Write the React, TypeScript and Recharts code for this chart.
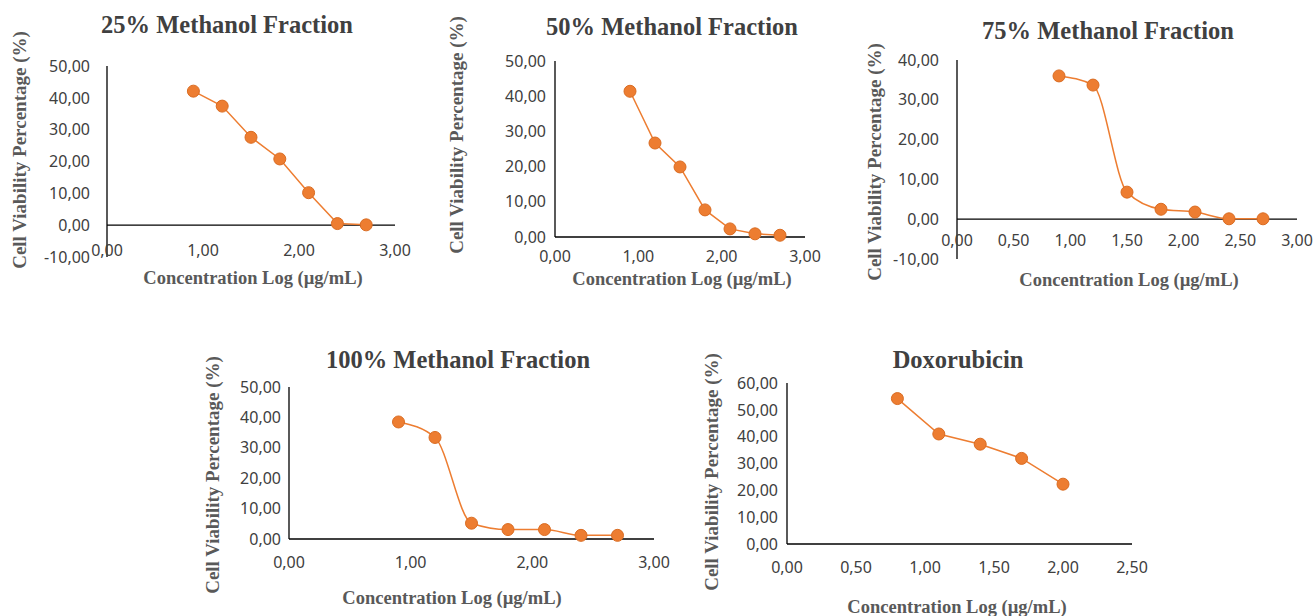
import React from "react";
import { LineChart, Line, XAxis, YAxis, ReferenceLine } from "recharts";

// log10 of concentration (µg/mL) and viability (%)
const logConc = [0.9, 1.2, 1.5, 1.8, 2.1, 2.4, 2.7];
const viability25 = [42.1, 37.4, 27.6, 20.8, 10.2, 0.5, 0.1];
const viability50 = [41.4, 26.7, 19.9, 7.7, 2.3, 0.9, 0.5];
const viability75 = [36.0, 33.7, 6.8, 2.5, 1.8, 0.1, 0.1];
const viability100 = [38.5, 33.4, 5.2, 3.1, 3.1, 1.2, 1.2];
const doxoLogConc = [0.8, 1.1, 1.4, 1.7, 2.0];
const doxoViability = [54.2, 41.0, 37.2, 31.9, 22.3];

const xTicksWhole = [0, 1, 2, 3];
const xTicksHalf = [0, 0.5, 1, 1.5, 2, 2.5, 3];
const xTicksDoxo = [0, 0.5, 1, 1.5, 2, 2.5];
const yTicksNeg50 = [-10, 0, 10, 20, 30, 40, 50];
const yTicks50 = [0, 10, 20, 30, 40, 50];
const yTicksNeg40 = [-10, 0, 10, 20, 30, 40];
const yTicks60 = [0, 10, 20, 30, 40, 50, 60];

const Y_W = 80;
const M_TOP = 10;
const M_RIGHT = 30;
const X_H = 40;

const ORANGE = "#ED7D31";
const TICK_FONT = "'Noto Sans', sans-serif";
const SERIF = "'Liberation Serif', 'Times New Roman', serif";

const fmt = (v: number) => v.toFixed(2).replace(".", ",");

type PanelProps = {
  title: string;
  xs: number[];
  ys: number[];
  xDomain: [number, number];
  xTicks: number[];
  yDomain: [number, number];
  yTicks: number[];
  smooth?: boolean;
  plot: { left: number; top: number; width: number; height: number };
  yTickGap: number;
  xTickY: number;
  titleAt: [number, number];
  xLabelAt: [number, number];
  yLabelAt: [number, number];
};

function Panel(p: PanelProps) {
  const data = p.xs.map((x, i) => ({ x, v: p.ys[i] }));
  const boxLeft = p.plot.left - Y_W;
  const boxTop = p.plot.top - M_TOP;
  const dy = p.xTickY - (p.plot.top + p.plot.height);

  const renderXTick = (props: any) => {
    const { x, y, payload } = props;
    return (
      <text
        x={x}
        y={y + dy}
        textAnchor="middle"
        dominantBaseline="central"
        fill="#404040"
        fontSize={16}
        fontFamily={TICK_FONT}
      >
        {fmt(payload.value)}
      </text>
    );
  };

  return (
    <>
      <div
        style={{
          position: "absolute",
          left: p.titleAt[0],
          top: p.titleAt[1],
          transform: "translate(-50%, -50%)",
          whiteSpace: "nowrap",
          fontFamily: SERIF,
          fontWeight: "bold",
          fontSize: 24.5,
          color: "#404040",
        }}
      >
        {p.title}
      </div>
      <div style={{ position: "absolute", left: boxLeft, top: boxTop }}>
        <LineChart
          width={p.plot.width + Y_W + M_RIGHT}
          height={p.plot.height + M_TOP + X_H}
          data={data}
          margin={{ top: M_TOP, right: M_RIGHT, bottom: 0, left: 0 }}
        >
          <XAxis
            dataKey="x"
            type="number"
            domain={p.xDomain}
            ticks={p.xTicks}
            height={X_H}
            axisLine={false}
            tickLine={false}
            tickSize={0}
            tickMargin={0}
            tick={renderXTick}
            interval={0}
          />
          <YAxis
            type="number"
            domain={p.yDomain}
            ticks={p.yTicks}
            width={Y_W}
            axisLine={{ stroke: "#000", strokeWidth: 1.3 }}
            tickLine={false}
            tickSize={0}
            tickMargin={p.yTickGap}
            tickFormatter={fmt}
            tick={{ fill: "#404040", fontSize: 16, fontFamily: TICK_FONT }}
            interval={0}
          />
          <ReferenceLine y={0} stroke="#000" strokeWidth={1.3} />
          <Line
            type={p.smooth ? "monotone" : "linear"}
            dataKey="v"
            stroke={ORANGE}
            strokeWidth={1.5}
            dot={{ r: 6, fill: ORANGE, stroke: "#DA6C22", strokeWidth: 1 }}
            isAnimationActive={false}
          />
        </LineChart>
      </div>
      <div
        style={{
          position: "absolute",
          left: p.xLabelAt[0],
          top: p.xLabelAt[1],
          transform: "translate(-50%, -50%)",
          whiteSpace: "nowrap",
          fontFamily: SERIF,
          fontWeight: "bold",
          fontSize: 18.5,
          color: "#595959",
        }}
      >
        Concentration Log (µg/mL)
      </div>
      <div
        style={{
          position: "absolute",
          left: p.yLabelAt[0],
          top: p.yLabelAt[1],
          transform: "translate(-50%, -50%) rotate(-90deg)",
          whiteSpace: "nowrap",
          fontFamily: SERIF,
          fontWeight: "bold",
          fontSize: 19,
          color: "#595959",
        }}
      >
        Cell Viability Percentage (%)
      </div>
    </>
  );
}

export default function App() {
  return (
    <div
      style={{
        position: "absolute",
        left: 0,
        top: 0,
        width: 1315,
        height: 616,
        background: "#fff",
        overflow: "hidden",
      }}
    >
      <Panel
        title="25% Methanol Fraction"
        xs={logConc}
        ys={viability25}
        xDomain={[0, 3]}
        xTicks={xTicksWhole}
        yDomain={[-10, 50]}
        yTicks={yTicksNeg50}
        plot={{ left: 107, top: 66, width: 288, height: 191 }}
        yTickGap={17}
        xTickY={250}
        titleAt={[227, 25]}
        xLabelAt={[253, 278]}
        yLabelAt={[20, 150]}
      />
      <Panel
        title="50% Methanol Fraction"
        xs={logConc}
        ys={viability50}
        xDomain={[0, 3]}
        xTicks={xTicksWhole}
        yDomain={[0, 50]}
        yTicks={yTicks50}
        plot={{ left: 555, top: 61, width: 250, height: 176 }}
        yTickGap={9}
        xTickY={256}
        titleAt={[672, 27]}
        xLabelAt={[682, 279]}
        yLabelAt={[457, 135]}
      />
      <Panel
        title="75% Methanol Fraction"
        xs={logConc}
        ys={viability75}
        xDomain={[0, 3]}
        xTicks={xTicksHalf}
        yDomain={[-10, 40]}
        yTicks={yTicksNeg40}
        smooth
        plot={{ left: 957, top: 60, width: 340, height: 199 }}
        yTickGap={18}
        xTickY={240}
        titleAt={[1108, 31]}
        xLabelAt={[1129, 280]}
        yLabelAt={[875, 162]}
      />
      <Panel
        title="100% Methanol Fraction"
        xs={logConc}
        ys={viability100}
        xDomain={[0, 3]}
        xTicks={xTicksWhole}
        yDomain={[0, 50]}
        yTicks={yTicks50}
        smooth
        plot={{ left: 289, top: 387, width: 365, height: 152 }}
        yTickGap={8}
        xTickY={562}
        titleAt={[458, 360]}
        xLabelAt={[452, 598]}
        yLabelAt={[213, 475]}
      />
      <Panel
        title="Doxorubicin"
        xs={doxoLogConc}
        ys={doxoViability}
        xDomain={[0, 2.5]}
        xTicks={xTicksDoxo}
        yDomain={[0, 60]}
        yTicks={yTicks60}
        plot={{ left: 787, top: 383, width: 345, height: 161 }}
        yTickGap={9}
        xTickY={567}
        titleAt={[958, 360]}
        xLabelAt={[957, 607]}
        yLabelAt={[712, 472]}
      />
    </div>
  );
}
